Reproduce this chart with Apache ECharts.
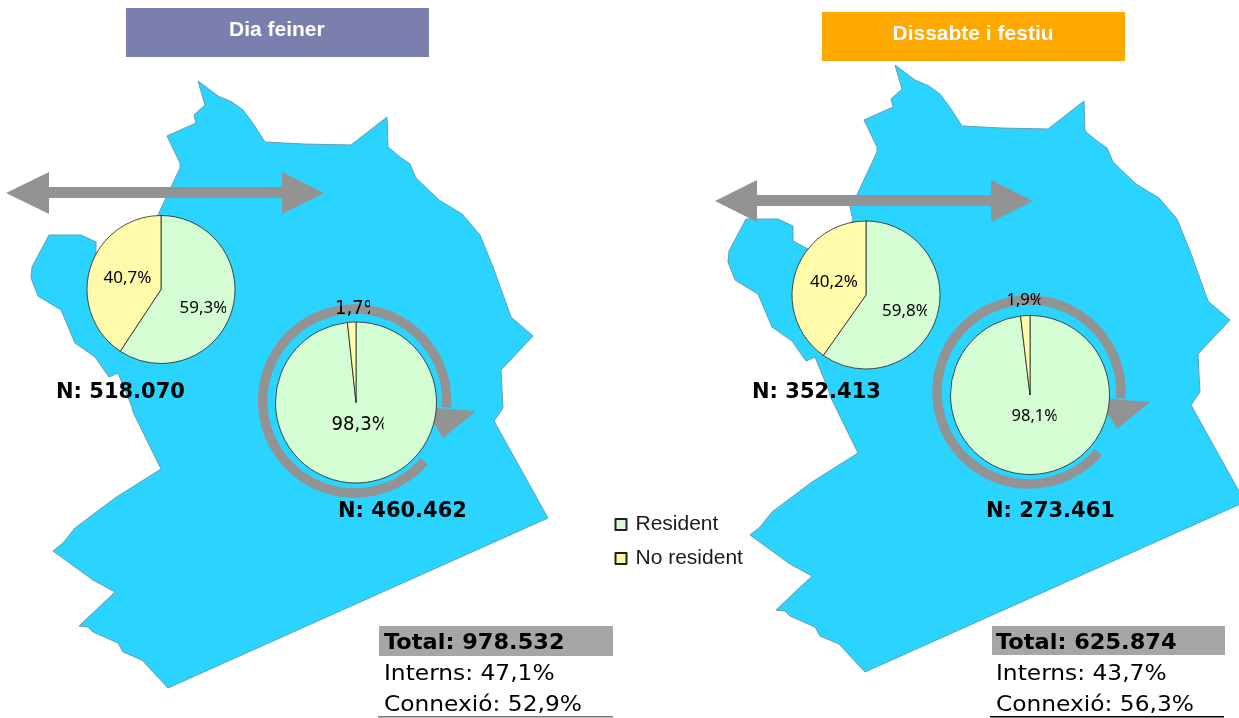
<!DOCTYPE html>
<html>
<head>
<meta charset="utf-8">
<style>
  html, body { margin: 0; padding: 0; background: #fff; }
  #chart { width: 1239px; height: 718px; }
</style>
<script src="https://cdn.jsdelivr.net/npm/echarts@6/dist/echarts.min.js"></script>
</head>
<body>
<div id="chart"></div>
<script>
// dades llegides del gràfic
const categories = ["Resident", "No resident"];
const panelTitles = ["Dia feiner", "Dissabte i festiu"];
const connexioResident = [59.3, 59.8];
const connexioNoResident = [40.7, 40.2];
const internsResident = [98.3, 98.1];
const internsNoResident = [1.7, 1.9];
const nConnexio = ["518.070", "352.413"];
const nInterns = ["460.462", "273.461"];
const totals = ["978.532", "625.874"];
const internsPct = ["47,1", "43,7"];
const connexioPct = ["52,9", "56,3"];

// silueta del territori (panell esquerre), el dret és el mateix desplaçat
const mapOutline = [
  [198,81],[218,96],[232,102],[243,110],[252,122],[265,142],[304,144],[351,145],[387,117],[388,147],
  [400,157],[410,164],[416,178],[439,200],[462,214],[480,235],[493,267],[511,317],[533,336],[501,370],
  [502,390],[503,408],[494,421],[548,518],[168,688],[142,660],[123,652],[118,643],[93,632],[88,627],
  [79,626],[115,592],[93,580],[53,551],[63,543],[75,528],[115,498],[161,469],[133,412],[132,407],
  [118,373],[109,377],[95,357],[75,343],[61,310],[38,296],[31,278],[32,267],[49,235],[81,235],
  [96,242],[96,257],[111,265],[125,270],[156,236],[153,223],[158,215],[180,168],[180,163],[167,136],
  [196,123],[194,115],[205,105]
];
const mapOffsets = [[0, 0], [697, -16]];

const GREEN = "#d4fdd4";
const YELLOW = "#fffbab";
const GREY = "#939393";
const VERDANA = '"DejaVu Sans"';

// formes de cada panell
const shapes = [
  { i: 0, box: [126, 8, 303, 49], color: "#7b7fad" },
  { i: 1, box: [822, 12, 303, 49], color: "#ffa800" },
  { i: 0, box: [379, 626, 234, 30], color: "#a6a6a6" },
  { i: 1, box: [992, 626, 233, 29], color: "#a6a6a6" },
  { i: 0, box: [378, 716, 235, 1.5], color: "#777" },
  { i: 1, box: [990, 716, 234, 1.5], color: "#000" },
];
const doubleArrows = [
  [[6,193],[49,172],[49,187],[282,187],[282,172],[324,193],[282,214],[282,198],[49,198],[49,214]],
  [[715,201],[757,180],[757,195],[991,195],[991,180],[1033,201],[991,222],[991,206],[757,206],[757,222]],
];
const ringArrows = [
  { c: [354.7, 401], tri: [[424,407],[476,411],[443,438]] },
  { c: [1029, 392], tri: [[1098,398],[1150,402],[1117,429]] },
];

const pct = (v) => v.toFixed(1).replace(".", ",") + "%";

// x, y: inici del text; clip: amplada visible (els rètols originals surten retallats)
const texts = [
  { t: pct(connexioNoResident[0]), x: 103.5, y: 278, font: '17px "Noto Sans"' },
  { t: pct(connexioResident[0]), x: 179.5, y: 308, font: '17px "Noto Sans"', clip: 46.5 },
  { t: pct(internsNoResident[0]), x: 335, y: 309, font: "19px " + VERDANA, sx: 0.95, clip: 35 },
  { t: pct(internsResident[0]), x: 331.5, y: 425, font: "19px " + VERDANA, sx: 0.95, clip: 52 },
  { t: pct(connexioNoResident[1]), x: 810, y: 282, font: '17px "Noto Sans"' },
  { t: pct(connexioResident[1]), x: 882, y: 311, font: '17px "Noto Sans"', clip: 45 },
  { t: pct(internsNoResident[1]), x: 1006.5, y: 300, font: '16.5px "Noto Sans"', clip: 34 },
  { t: pct(internsResident[1]), x: 1011.5, y: 416, font: '16.5px "Noto Sans"', clip: 45 },
  { t: "N: " + nConnexio[0], x: 56, y: 393, font: "bold 21px " + VERDANA },
  { t: "N: " + nInterns[0], x: 338, y: 512, font: "bold 21px " + VERDANA },
  { t: "N: " + nConnexio[1], x: 752, y: 393, font: "bold 21px " + VERDANA },
  { t: "N: " + nInterns[1], x: 986, y: 512, font: "bold 21px " + VERDANA },
  { t: "Total: " + totals[0], x: 384, y: 644, font: "bold 21px " + VERDANA, sx: 1.07 },
  { t: "Interns: " + internsPct[0] + "%", x: 384, y: 675, font: "21px " + VERDANA, sx: 1.11 },
  { t: "Connexió: " + connexioPct[0] + "%", x: 384, y: 706, font: "21px " + VERDANA, sx: 1.11 },
  { t: "Total: " + totals[1], x: 996, y: 644, font: "bold 21px " + VERDANA, sx: 1.07 },
  { t: "Interns: " + internsPct[1] + "%", x: 996, y: 675, font: "21px " + VERDANA, sx: 1.11 },
  { t: "Connexió: " + connexioPct[1] + "%", x: 996, y: 706, font: "21px " + VERDANA, sx: 1.11 },
  { t: panelTitles[0], x: 229, y: 30, font: 'bold 21px "Liberation Sans"', fill: "#fff" },
  { t: panelTitles[1], x: 892.5, y: 34, font: 'bold 21px "Liberation Sans"', fill: "#fff" },
];

function customLayer(z, list, render) {
  return {
    type: "custom",
    coordinateSystem: "cartesian2d",
    silent: true,
    clip: false,
    z: z,
    data: list.map((d, i) => [i]),
    renderItem: function (params, api) {
      return render(list[api.value(0)], api);
    },
  };
}

function polygon(points, api, style) {
  return {
    type: "polygon",
    shape: { points: points.map((p) => api.coord(p)) },
    style: style,
  };
}

function pieSeries(center, radius, resident, noResident) {
  return {
    type: "pie",
    z: 5,
    silent: true,
    center: center,
    radius: radius,
    startAngle: 90,
    label: { show: false },
    labelLine: { show: false },
    itemStyle: { borderColor: "#222", borderWidth: 0.8 },
    data: [
      { name: categories[0], value: resident, itemStyle: { color: GREEN } },
      { name: categories[1], value: noResident, itemStyle: { color: YELLOW } },
    ],
  };
}

const chart = echarts.init(document.getElementById("chart"), null, { renderer: "canvas" });
chart.setOption({
  animation: false,
  backgroundColor: "#fff",
  grid: { left: 0, right: 0, top: 0, bottom: 0 },
  xAxis: { type: "value", min: 0, max: 1239, show: false },
  yAxis: { type: "value", min: 0, max: 718, inverse: true, show: false },
  legend: {
    orient: "vertical",
    left: 614.5,
    top: 514,
    padding: 0,
    icon: "rect",
    itemWidth: 11,
    itemHeight: 11,
    itemGap: 13,
    selectedMode: false,
    data: categories,
    textStyle: { fontFamily: "Liberation Sans", fontSize: 21, color: "#1a1a1a", padding: [0, 0, 3, 4] },
  },
  series: [
    customLayer(1, mapOffsets, (off, api) =>
      polygon(mapOutline.map((p) => [p[0] + off[0], p[1] + off[1]]), api, {
        fill: "#2ad4ff",
        stroke: "#5f9fb5",
        lineWidth: 1,
      })
    ),
    customLayer(2, shapes, (s, api) => {
      const [x, y, w, h] = s.box;
      return polygon([[x, y], [x + w, y], [x + w, y + h], [x, y + h]], api, { fill: s.color });
    }),
    customLayer(3, doubleArrows, (pts, api) => polygon(pts, api, { fill: GREY })),
    customLayer(3, ringArrows, (r, api) => {
      const c = api.coord(r.c);
      return {
        type: "group",
        children: [
          polygon(r.tri, api, { fill: GREY }),
          {
            type: "arc",
            shape: {
              cx: c[0],
              cy: c[1],
              r: 92,
              startAngle: (41 * Math.PI) / 180,
              endAngle: (364 * Math.PI) / 180,
              clockwise: true,
            },
            style: { fill: null, stroke: GREY, lineWidth: 9.5 },
          },
        ],
      };
    }),
    pieSeries([161, 289.5], 74, connexioResident[0], connexioNoResident[0]),
    pieSeries([356, 402.5], 80.5, internsResident[0], internsNoResident[0]),
    pieSeries([866, 295], 74, connexioResident[1], connexioNoResident[1]),
    pieSeries([1030, 395], 79.5, internsResident[1], internsNoResident[1]),
    customLayer(8, texts, (d, api) => {
      const p = api.coord([d.x, d.y]);
      const sx = d.sx || 1;
      const el = {
        type: "text",
        x: p[0],
        y: p[1],
        scaleX: sx,
        style: {
          text: d.t,
          font: d.font,
          fill: d.fill || "#000",
          textAlign: "left",
          textVerticalAlign: "middle",
        },
      };
      if (d.clip) {
        el.clipPath = { type: "rect", shape: { x: 0, y: -20, width: d.clip / sx, height: 40 } };
      }
      return el;
    }),
  ],
});
</script>
</body>
</html>
